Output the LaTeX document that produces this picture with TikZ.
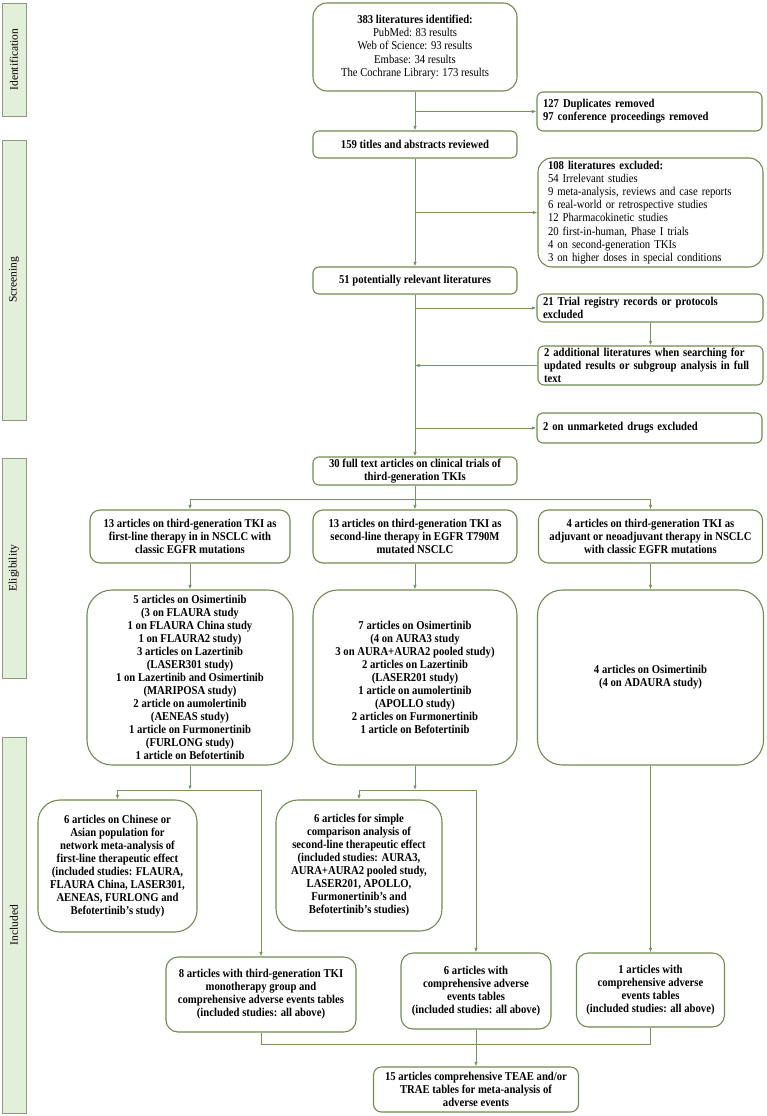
\documentclass[tikz,border=0pt]{standalone}
\usepackage{fontspec}
\setmainfont[FakeStretch=0.89]{Liberation Serif}
\newfontfamily\labfont{Liberation Serif}
\usetikzlibrary{arrows.meta}
\definecolor{bord}{RGB}{112,140,82}
\definecolor{conn}{RGB}{118,150,88}
\definecolor{labfill}{RGB}{226,239,217}
\definecolor{labbord}{RGB}{140,155,125}
\begin{document}
\begin{tikzpicture}[x=1pt,y=-1pt,
  box/.style={draw=bord, line width=1.1pt, rounded corners=6pt, align=center,
    font=\fontsize{12}{13}\selectfont\bfseries, inner sep=0pt},
  lbox/.style={box, align=left, inner xsep=6pt},
  lab/.style={draw=labbord, line width=0.9pt, fill=labfill, rotate=90, inner sep=0pt,
    minimum height=24pt, font=\labfont\fontsize{11.5}{14}\selectfont},
  conn/.style={draw=conn, line width=1pt},
  arr/.style={conn, -{Latex[length=4.5pt,width=3.5pt]}}
]
\useasboundingbox (0,0) rectangle (766,1116);
% stage labels
\node[lab, minimum width=113pt] (lid) at (14,59.5) {Identification};
\node[lab, minimum width=280pt] (lsc) at (14,280) {Screening};
\node[lab, minimum width=220pt] (lel) at (14,568) {Eligibility};
\node[lab, minimum width=376pt] (lin) at (14,925) {Included};
% main column
\node[box, rounded corners=14pt, minimum width=204pt, minimum height=88pt, font=\fontsize{12}{13.4}\selectfont] (b1) at (415,47)
  {\textbf{383 literatures identified:}\\PubMed: 83 results\\Web of Science: 93 results\\Embase: 34 results\\The Cochrane Library: 173 results};
\node[lbox, text width=213pt, minimum height=39pt] (dup) at (649.5,111.5)
  {127 Duplicates removed\\97 conference proceedings removed};
\node[box, minimum width=204pt, minimum height=27pt] (b2) at (415,144.5) {159 titles and abstracts reviewed};
\node[lbox, rounded corners=14pt, inner xsep=10pt, text width=205pt, minimum height=109pt, font=\fontsize{12}{13.1}\selectfont] (excl) at (650.5,212.5)
  {\textbf{108 literatures excluded:}\\54 Irrelevant studies\\9 meta-analysis, reviews and case reports\\6 real-world or retrospective studies\\12 Pharmacokinetic studies\\20 first-in-human, Phase I trials\\4 on second-generation TKIs\\3 on higher doses in special conditions};
\node[box, minimum width=204pt, minimum height=27pt] (b3) at (415,280.5) {51 potentially relevant literatures};
\node[lbox, text width=214pt, minimum height=28pt] (trial) at (650,308)
  {21 Trial registry records or protocols\\excluded};
\node[lbox, text width=213pt, minimum height=39pt] (add) at (650.5,365.5)
  {2 additional literatures when searching for\\updated results or subgroup analysis in full\\text};
\node[lbox, text width=213pt, minimum height=30pt] (unm) at (649.5,428) {2 on unmarketed drugs excluded};
\node[box, minimum width=204pt, minimum height=28pt] (b4) at (415,471)
  {30 full text articles on clinical trials of\\third-generation TKIs};
% eligibility
\node[box, rounded corners=10pt, minimum width=200pt, minimum height=53pt] (A) at (190,536.5)
  {13 articles on third-generation TKI as\\first-line therapy in in NSCLC with\\classic EGFR mutations};
\node[box, rounded corners=10pt, minimum width=204pt, minimum height=53pt] (B) at (415,536.5)
  {13 articles on third-generation TKI as\\second-line therapy in EGFR T790M\\mutated NSCLC};
\node[box, rounded corners=10pt, minimum width=224pt, minimum height=53pt] (C) at (650.5,536.5)
  {4 articles on third-generation TKI as\\adjuvant or neoadjuvant therapy in NSCLC\\with classic EGFR mutations};
\node[box, rounded corners=25pt, minimum width=206pt, minimum height=175pt] (A2) at (190,677.5)
  {5 articles on Osimertinib\\(3 on FLAURA study\\1 on FLAURA China study\\1 on FLAURA2 study)\\3 articles on Lazertinib\\(LASER301 study)\\1 on Lazertinib and Osimertinib\\(MARIPOSA study)\\2 article on aumolertinib\\(AENEAS study)\\1 article on Furmonertinib\\(FURLONG study)\\1 article on Befotertinib};
\node[box, rounded corners=25pt, minimum width=204pt, minimum height=175pt] (B2) at (415,677.5)
  {7 articles on Osimertinib\\(4 on AURA3 study\\3 on AURA+AURA2 pooled study)\\2 articles on Lazertinib\\(LASER201 study)\\1 article on aumolertinib\\(APOLLO study)\\2 articles on Furmonertinib\\1 article on Befotertinib};
\node[box, rounded corners=25pt, minimum width=226pt, minimum height=175pt] (C2) at (650.5,677.5)
  {4 articles on Osimertinib\\(4 on ADAURA study)};
% included
\node[box, rounded corners=22pt, minimum width=159pt, minimum height=132pt] (D) at (117.5,866)
  {6 articles on Chinese or\\Asian population for\\network meta-analysis of\\first-line therapeutic effect\\(included studies: FLAURA,\\FLAURA China, LASER301,\\AENEAS, FURLONG and\\Befotertinib’s study)};
\node[box, rounded corners=22pt, minimum width=166pt, minimum height=131pt] (E) at (359,865.5)
  {6 articles for simple\\comparison analysis of\\second-line therapeutic effect\\(included studies: AURA3,\\AURA+AURA2 pooled study,\\LASER201, APOLLO,\\Furmonertinib’s and\\Befotertinib’s studies)};
\node[box, rounded corners=12pt, minimum width=190pt, minimum height=75pt] (F) at (261,994.5)
  {8 articles with third-generation TKI\\monotherapy group and\\comprehensive adverse events tables\\(included studies: all above)};
\node[box, rounded corners=12pt, minimum width=150pt, minimum height=76pt] (G) at (476,991)
  {6 articles with\\comprehensive adverse\\events tables\\(included studies: all above)};
\node[box, rounded corners=12pt, minimum width=148pt, minimum height=74pt] (H) at (650.5,990)
  {1 articles with\\comprehensive adverse\\events tables\\(included studies: all above)};
\node[box, rounded corners=8pt, minimum width=205pt, minimum height=45pt] (I) at (476,1089.5)
  {15 articles comprehensive TEAE and/or\\TRAE tables for meta-analysis of\\adverse events};
% connectors: identification / screening
\draw[arr] (b1.south) -- (b2.north);
\draw[arr] (b1.south |- dup.west) -- (dup.west);
\draw[arr] (b2.south) -- (b3.north);
\draw[arr] (b2.south |- excl.west) -- (excl.west);
\draw[arr] (b3.south) -- (b4.north);
\draw[arr] (b3.south |- trial.west) -- (trial.west);
\draw[arr] (trial.south -| add.north) -- (add.north);
\draw[arr] (add.west) -- (add.west -| b3.south);
\draw[arr] (b3.south |- unm.west) -- (unm.west);
% split to three branches
\coordinate (s1) at (415,499);
\draw[conn] (b4.south) -- (s1);
\draw[conn] (A.north |- s1) -- (C.north |- s1);
\draw[arr] (A.north |- s1) -- (A.north);
\draw[arr] (s1) -- (B.north);
\draw[arr] (C.north |- s1) -- (C.north);
\draw[arr] (A.south) -- (A2.north);
\draw[arr] (B.south) -- (B2.north);
\draw[arr] (C.south) -- (C2.north);
% A2 branch
\coordinate (sa) at (190,790);
\draw[arr] (A2.south) -- (sa);
\draw[conn] (D.north |- sa) -- (F.north |- sa);
\draw[arr] (D.north |- sa) -- (D.north);
\draw[arr] (F.north |- sa) -- (F.north);
% B2 branch
\coordinate (sb) at (415,790);
\draw[arr] (B2.south) -- (sb);
\draw[conn] (E.north |- sb) -- (G.north |- sb);
\draw[arr] (E.north |- sb) -- (E.north);
\draw[arr] (G.north |- sb) -- (G.north);
% C2 branch
\draw[arr] (C2.south) -- (H.north);
% merge
\coordinate (m) at (476,1044);
\draw[conn] (F.south) -- (F.south |- m) -- (H.south |- m) -- (H.south);
\draw[arr] (G.south) -- (I.north);
\end{tikzpicture}
\end{document}
